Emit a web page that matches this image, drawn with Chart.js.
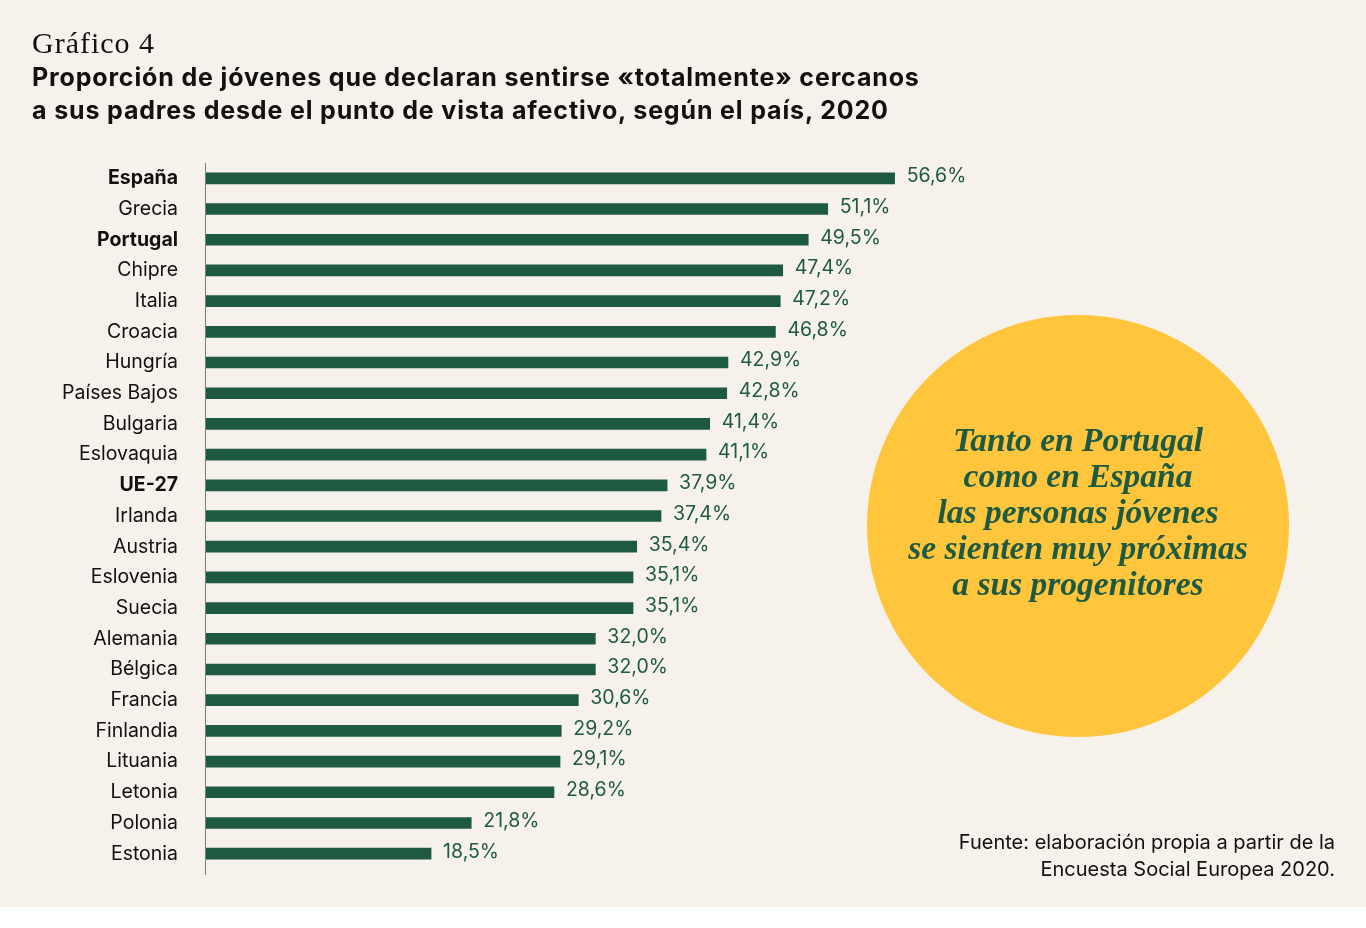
<!DOCTYPE html>
<html lang="es">
<head>
<meta charset="utf-8">
<script src="https://cdn.jsdelivr.net/npm/chart.js@4.4.1/dist/chart.umd.min.js"></script>
<style>
  html, body { margin:0; padding:0; background:#ffffff; }
  #wrap { position:relative; width:1366px; height:928px; }
  #bg { position:absolute; left:0; top:0; width:1366px; height:907px; background:#f6f1ea; }
  #c { position:absolute; left:0; top:0; }
  .t1 { position:absolute; left:32px; top:26px; font-family:"Liberation Serif","DejaVu Serif",serif; font-size:30px; letter-spacing:1px; color:#111; }
  .t2 { position:absolute; left:32px; top:61px; font-family:Inter,"Noto Sans",sans-serif; font-weight:700; font-size:25px; line-height:33px; color:#111; letter-spacing:0.85px; }
  #circle { position:absolute; left:867px; top:315px; width:422px; height:422px; border-radius:50%; background:#fec53d; }
  #ctext { position:absolute; left:867px; top:422px; width:422px; text-align:center; font-family:"Liberation Serif","DejaVu Serif",serif; font-style:italic; font-weight:700; font-size:33.5px; line-height:36px; color:#1e5a40; }
  #src { position:absolute; right:31px; top:829px; text-align:right; font-family:Inter,"Noto Sans",sans-serif; font-size:20px; line-height:27px; color:#111; }
</style>
</head>
<body>
<div id="wrap">
  <div id="bg"></div>
  <canvas id="c" width="1366" height="928"></canvas>
  <div class="t1">Gráfico 4</div>
  <div class="t2">Proporción de jóvenes que declaran sentirse «totalmente» cercanos<br>a sus padres desde el punto de vista afectivo, según el país, 2020</div>
  <div id="circle"></div>
  <div id="ctext">Tanto en Portugal<br>como en España<br>las personas jóvenes<br>se sienten muy próximas<br>a sus progenitores</div>
  <div id="src">Fuente: elaboración propia a partir de la<br>Encuesta Social Europea 2020.</div>
</div>
<script>
const countries = ["España","Grecia","Portugal","Chipre","Italia","Croacia","Hungría","Países Bajos","Bulgaria","Eslovaquia","UE-27","Irlanda","Austria","Eslovenia","Suecia","Alemania","Bélgica","Francia","Finlandia","Lituania","Letonia","Polonia","Estonia"];
const values = [56.6,51.1,49.5,47.4,47.2,46.8,42.9,42.8,41.4,41.1,37.9,37.4,35.4,35.1,35.1,32.0,32.0,30.6,29.2,29.1,28.6,21.8,18.5];
const boldLabels = ["España","Portugal","UE-27"];

const fmt = v => v.toFixed(1).replace('.', ',') + '%';

const valueLabels = {
  id: 'valueLabels',
  afterDatasetsDraw(chart) {
    const ctx = chart.ctx;
    const meta = chart.getDatasetMeta(0);
    ctx.save();
    ctx.font = '19.5px Inter, "Noto Sans", sans-serif';
    ctx.fillStyle = '#1e5a40';
    ctx.textBaseline = 'middle';
    ctx.textAlign = 'left';
    meta.data.forEach((bar, i) => {
      ctx.fillText(fmt(values[i]), bar.x + 12, bar.y - 2);
    });
    ctx.restore();
  }
};

const axisLine = {
  id: 'axisLine',
  afterDraw(chart) {
    const a = chart.chartArea, ctx = chart.ctx;
    ctx.save();
    ctx.strokeStyle = '#7a7a7a';
    ctx.lineWidth = 1;
    ctx.beginPath();
    ctx.moveTo(a.left - 0.5, a.top);
    ctx.lineTo(a.left - 0.5, a.bottom + 6);
    ctx.stroke();
    ctx.restore();
  }
};

new Chart(document.getElementById('c'), {
  type: 'bar',
  data: {
    labels: countries,
    datasets: [{
      data: values,
      backgroundColor: '#1e5a42',
      barThickness: 11,
      borderWidth: 0
    }]
  },
  options: {
    indexAxis: 'y',
    responsive: false,
    animation: false,
    events: [],
    layout: { padding: { left: 0, top: 163, right: 430, bottom: 59 } },
    plugins: { legend: { display: false }, tooltip: { enabled: false } },
    scales: {
      x: {
        min: 0, max: 60,
        display: false
      },
      y: {
        grid: { display: false, drawTicks: false },
        border: { display: false },
        afterFit(scale) { scale.width = 206; },
        ticks: {
          padding: 28,
          color: '#111',
          font: (c) => ({
            family: 'Inter, "Noto Sans", sans-serif',
            size: 19.5,
            weight: boldLabels.includes(countries[c.index]) ? '700' : '400'
          })
        }
      }
    }
  },
  plugins: [valueLabels, axisLine]
});
</script>
</body>
</html>
